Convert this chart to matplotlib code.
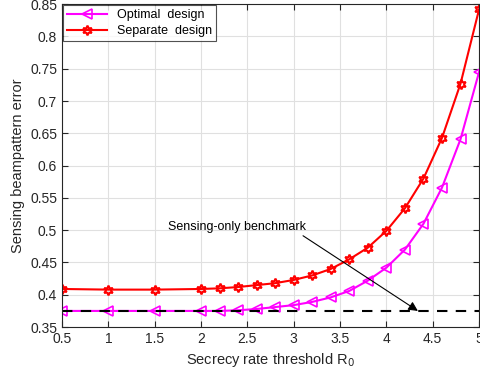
import matplotlib
matplotlib.use('Agg')
import matplotlib.pyplot as plt

plt.rcParams['font.family'] = ['Liberation Sans', 'DejaVu Sans']

R0 = [0.5, 1, 1.5, 2, 2.2, 2.4, 2.6, 2.8, 3.0, 3.2, 3.4, 3.6, 3.8, 4.0, 4.2, 4.4, 4.6, 4.8, 5.0]
optimal = [0.375, 0.375, 0.375, 0.375, 0.375, 0.376, 0.378, 0.381, 0.384, 0.389, 0.396, 0.406,
           0.422, 0.442, 0.470, 0.510, 0.566, 0.641, 0.745]
separate = [0.409, 0.408, 0.408, 0.409, 0.410, 0.412, 0.415, 0.418, 0.423, 0.430, 0.440, 0.455,
            0.473, 0.499, 0.534, 0.580, 0.643, 0.727, 0.842]
benchmark = 0.375

fig = plt.figure(figsize=(4.81, 3.79), dpi=100)
ax = fig.add_axes([0.129, 0.137, 0.867, 0.852])

ax.plot(R0, optimal, color='magenta', lw=1.5, marker='<', ms=7, mfc='none',
        mew=1.2, label='Optimal  design')
ax.plot(R0, separate, color='red', lw=1.5, marker=(6, 1, 0), ms=7, mfc='none',
        mew=1.5, label='Separate  design')
ax.plot([0.5, 5], [benchmark, benchmark], 'k--', lw=1.5, dashes=(5, 4))

ax.annotate('Sensing-only benchmark', xy=(4.34, benchmark), xytext=(1.64, 0.505),
            fontsize=9, va='center', ha='left',
            arrowprops=dict(arrowstyle='-|>', color='black', lw=0.8,
                            shrinkA=0, shrinkB=0, mutation_scale=14,
                            relpos=(0.95, 0.0)))

ax.set_xlim(0.5, 5)
ax.set_ylim(0.35, 0.85)
ax.set_xticks([0.5, 1, 1.5, 2, 2.5, 3, 3.5, 4, 4.5, 5])
ax.set_xticklabels(['0.5', '1', '1.5', '2', '2.5', '3', '3.5', '4', '4.5', '5'])
ax.set_yticks([0.35, 0.4, 0.45, 0.5, 0.55, 0.6, 0.65, 0.7, 0.75, 0.8, 0.85])
ax.set_yticklabels(['0.35', '0.4', '0.45', '0.5', '0.55', '0.6', '0.65', '0.7', '0.75', '0.8', '0.85'])
ax.tick_params(direction='in', top=True, right=True, labelsize=10, colors='#262626', length=4)
ax.grid(True, color='#e0e0e0', lw=0.8)
ax.set_axisbelow(True)
for s in ax.spines.values():
    s.set_color('#262626')
    s.set_linewidth(0.8)

ax.set_xlabel('Secrecy rate threshold R$_0$', fontsize=10.5, color='#262626')
ax.set_ylabel('Sensing beampattern error', fontsize=10.5, color='#262626')

leg = ax.legend(loc='upper left', fontsize=9, fancybox=False, edgecolor='#262626',
                borderaxespad=0.1, handlelength=3.2, borderpad=0.3, labelspacing=0.3)
leg.get_frame().set_linewidth(0.8)

fig.savefig('out.png', dpi=100)
